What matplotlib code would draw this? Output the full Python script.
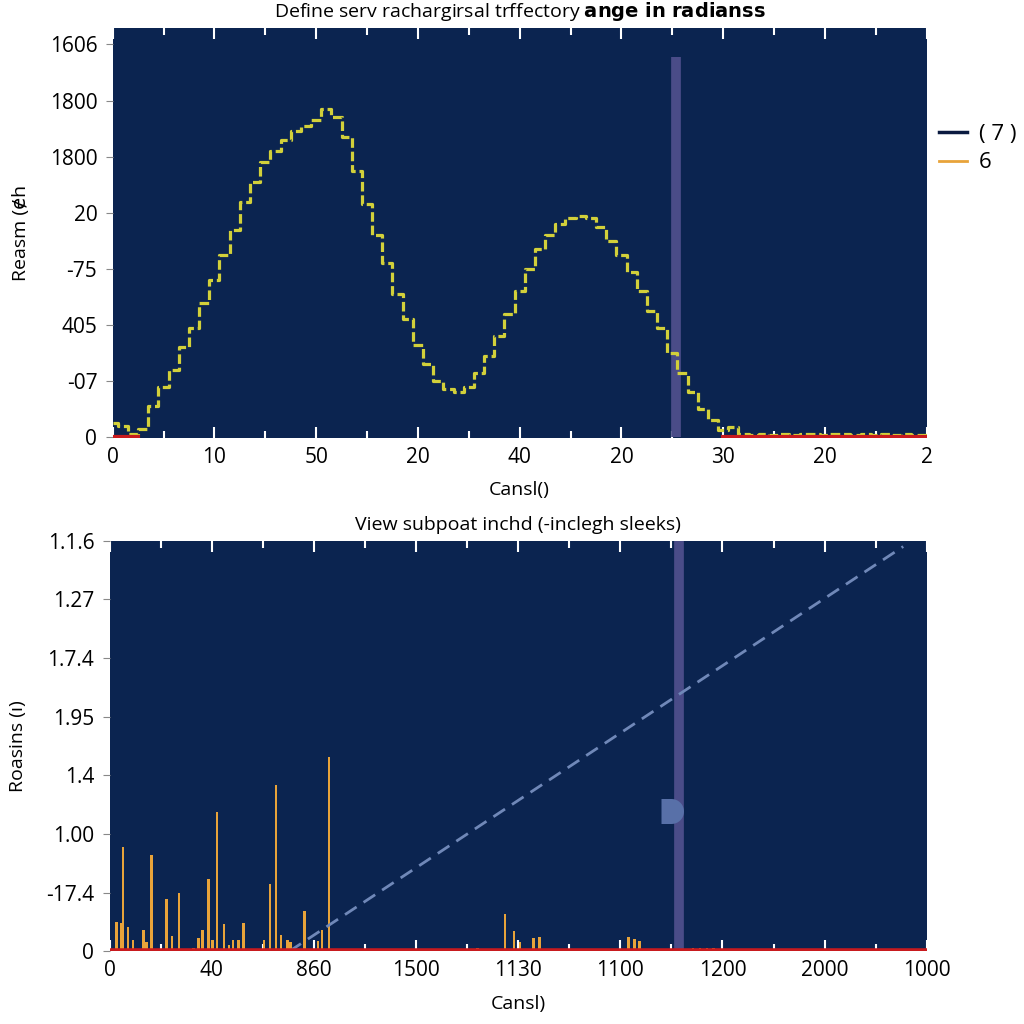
import numpy as np
import matplotlib
matplotlib.use("Agg")
import matplotlib.pyplot as plt
from matplotlib.lines import Line2D

plt.rcParams['font.family'] = ['Open Sans', 'DejaVu Sans']

# ---------------- data ----------------
top_title = r"Define serv rachargirsal trffectory $\mathbf{ange\ in\ radianss}$"
top_xlabel = "Cansl()"
top_ylabel = "Reasm (ɇh"
top_xticklabels = ["0", "10", "50", "20", "40", "20", "30", "20", "2"]
top_yticklabels = ["0", "-07", "405", "-75", "20", "1800", "1800", "1606"]

curve_x = [0.0, 0.1, 0.2, 0.3, 0.4, 0.5, 0.6, 0.7, 0.8, 0.9,
           1.0, 1.1, 1.2, 1.3, 1.4, 1.5, 1.6, 1.7, 1.8, 1.9,
           2.0, 2.1, 2.2, 2.3, 2.4, 2.5, 2.6, 2.7, 2.8, 2.9,
           3.0, 3.1, 3.2, 3.3, 3.4, 3.5, 3.6, 3.7, 3.8, 3.9,
           4.0, 4.1, 4.2, 4.3, 4.4, 4.5, 4.6, 4.7, 4.8, 4.9,
           5.0, 5.1, 5.2, 5.3, 5.4, 5.5, 5.6, 5.7, 5.8, 5.9,
           6.0, 6.1, 6.2, 6.3, 6.4, 6.5, 6.6, 6.7, 6.8, 6.9,
           7.0, 7.1, 7.2, 7.3, 7.4, 7.5, 7.6, 7.7, 7.8, 7.9, 8.0]
curve_y = [0.25, 0.20, 0.05, 0.15, 0.55, 0.90, 1.20, 1.60, 1.95, 2.40,
           2.80, 3.25, 3.70, 4.20, 4.55, 4.90, 5.10, 5.30, 5.45, 5.55,
           5.65, 5.85, 5.70, 5.35, 4.75, 4.15, 3.60, 3.10, 2.55, 2.10,
           1.65, 1.30, 1.00, 0.85, 0.80, 0.90, 1.15, 1.45, 1.80, 2.20,
           2.60, 3.00, 3.35, 3.60, 3.80, 3.90, 3.95, 3.90, 3.75, 3.50,
           3.25, 2.95, 2.60, 2.25, 1.95, 1.50, 1.15, 0.80, 0.50, 0.30,
           0.12, 0.18, 0.05, 0.04, 0.05, 0.04, 0.05, 0.04, 0.06, 0.05,
           0.04, 0.06, 0.05, 0.04, 0.06, 0.04, 0.05, 0.04, 0.05, 0.04, 0.04]
top_red_segments = [(0.0, 0.25), (6.0, 8.0)]
top_vline_x = 5.54
top_vline_ymax = 6.77

legend_labels = ["( 7 )", "6"]

bot_title = "View subpoat inchd (-inclegh sleeks)"
bot_xlabel = "Cansl)"
bot_ylabel = "Roasins (ı)"
bot_xticklabels = ["0", "40", "860", "1500", "1130", "1100", "1200", "2000", "1000"]
bot_yticklabels = ["0", "-17.4", "1.00", "1.4", "1.95", "1.7.4", "1.27", "1.1.6"]

bar_x = [0.07, 0.11, 0.13, 0.18, 0.23, 0.33, 0.36, 0.41, 0.56, 0.61,
         0.68, 0.82, 0.87, 0.91, 0.97, 1.01, 1.05, 1.12, 1.17, 1.21,
         1.26, 1.31, 1.51, 1.57, 1.63, 1.68, 1.74, 1.77, 1.91, 2.04,
         2.08, 2.15, 3.49, 3.60, 3.87, 3.96, 4.02, 4.15, 4.21,
         5.08, 5.14, 5.19, 5.26, 5.42, 5.47, 5.71, 5.78, 5.85, 5.91]
bar_h = [0.50, 0.48, 1.78, 0.41, 0.20, 0.36, 0.15, 1.64, 0.89, 0.26,
         1.00, 0.06, 0.23, 0.36, 1.23, 0.20, 2.38, 0.47, 0.10, 0.20,
         0.20, 0.48, 0.20, 1.14, 2.84, 0.28, 0.19, 0.16, 0.69, 0.17,
         0.36, 3.32, 0.03, 0.06, 0.63, 0.35, 0.16, 0.22, 0.25,
         0.25, 0.21, 0.18, 0.03, 0.04, 0.03, 0.06, 0.06, 0.06, 0.05]
dash_x = [1.76, 7.77]
dash_y = [0.0, 6.9]
bot_vline_x = 5.57
marker_x = [5.50]
marker_y = [2.4]

# ---------------- styles ----------------
BG = '#0b2450'
YEL = '#d2d03a'
ORG = '#e8a33a'
RED = '#c81a1e'
VLINE = '#4a4c88'

fig = plt.figure(figsize=(10.24, 10.24), dpi=100)
ax1 = fig.add_axes([0.110, 0.572, 0.795, 0.401])
ax2 = fig.add_axes([0.107, 0.071, 0.798, 0.401])

for ax in (ax1, ax2):
    ax.set_facecolor(BG)
    for s in ax.spines.values():
        s.set_visible(False)
    ax.tick_params(axis='x', which='both', direction='in', colors='white',
                   labelcolor='black', labelsize=15, top=True, length=8, width=1.5, pad=6)
    ax.tick_params(axis='x', which='minor', length=5)
    ax.tick_params(axis='y', which='both', direction='out', colors='#888888',
                   labelcolor='black', labelsize=15, right=False, length=5, pad=6)
    ax.set_xticks(np.arange(0.5, 8, 1), minor=True)

# ---- top ----
ax1.set_xlim(0, 8)
ax1.set_ylim(-0.02, 7.3)
ax1.set_xticks(range(9))
ax1.set_xticklabels(top_xticklabels)
ax1.set_yticks(range(8))
ax1.set_yticklabels(top_yticklabels)
ax1.step(curve_x, curve_y, where='mid', color=YEL, lw=2.3,
         linestyle=(0, (3, 1.2)), zorder=3)
for a, b in top_red_segments:
    ax1.plot([a, b], [0.0, 0.0], color=RED, lw=3, zorder=4)
ax1.plot([top_vline_x, top_vline_x], [0, top_vline_ymax], color=VLINE, lw=7,
         solid_capstyle='butt', zorder=2)
ax1.set_title(top_title, fontsize=14, pad=8)
ax1.set_xlabel(top_xlabel, fontsize=14, labelpad=10)
ax1.set_ylabel(top_ylabel, fontsize=14, labelpad=14)

# ---- bottom ----
ax2.set_xlim(0, 8)
ax2.set_ylim(0, 7)
ax2.set_xticks(range(9))
ax2.set_xticklabels(bot_xticklabels)
ax2.set_yticks(range(8))
ax2.set_yticklabels(bot_yticklabels)
ax2.bar(bar_x, bar_h, width=0.025, color=ORG, zorder=3)
ax2.plot(dash_x, dash_y, color='#7088b8', lw=2, linestyle=(0, (5, 3)), zorder=4)
ax2.plot([bot_vline_x, bot_vline_x], [0, 7], color=VLINE, lw=7,
         solid_capstyle='butt', zorder=2)
t = np.linspace(-np.pi / 2, np.pi / 2, 30)
dverts = [(-0.8, -1.0)] + [(np.cos(a), np.sin(a)) for a in t] + [(-0.8, 1.0), (-0.8, -1.0)]
ax2.plot(marker_x, marker_y, linestyle='none', marker=dverts, markersize=18,
         color='#5870a8', markeredgewidth=0, zorder=5)
ax2.plot([0, 8], [0, 0], color=RED, lw=4, zorder=4)
ax2.set_title(bot_title, fontsize=14, pad=8)
ax2.set_xlabel(bot_xlabel, fontsize=14, labelpad=10)
ax2.set_ylabel(bot_ylabel, fontsize=14, labelpad=14)

handles = [Line2D([0], [0], color='#0a1a40', lw=2.5),
           Line2D([0], [0], color=ORG, lw=2)]
fig.legend(handles, legend_labels, loc='center left', bbox_to_anchor=(0.897, 0.855),
           frameon=False, fontsize=16, handlelength=1.3, handletextpad=0.5,
           labelspacing=0.35)

fig.savefig('out.png', dpi=100)
